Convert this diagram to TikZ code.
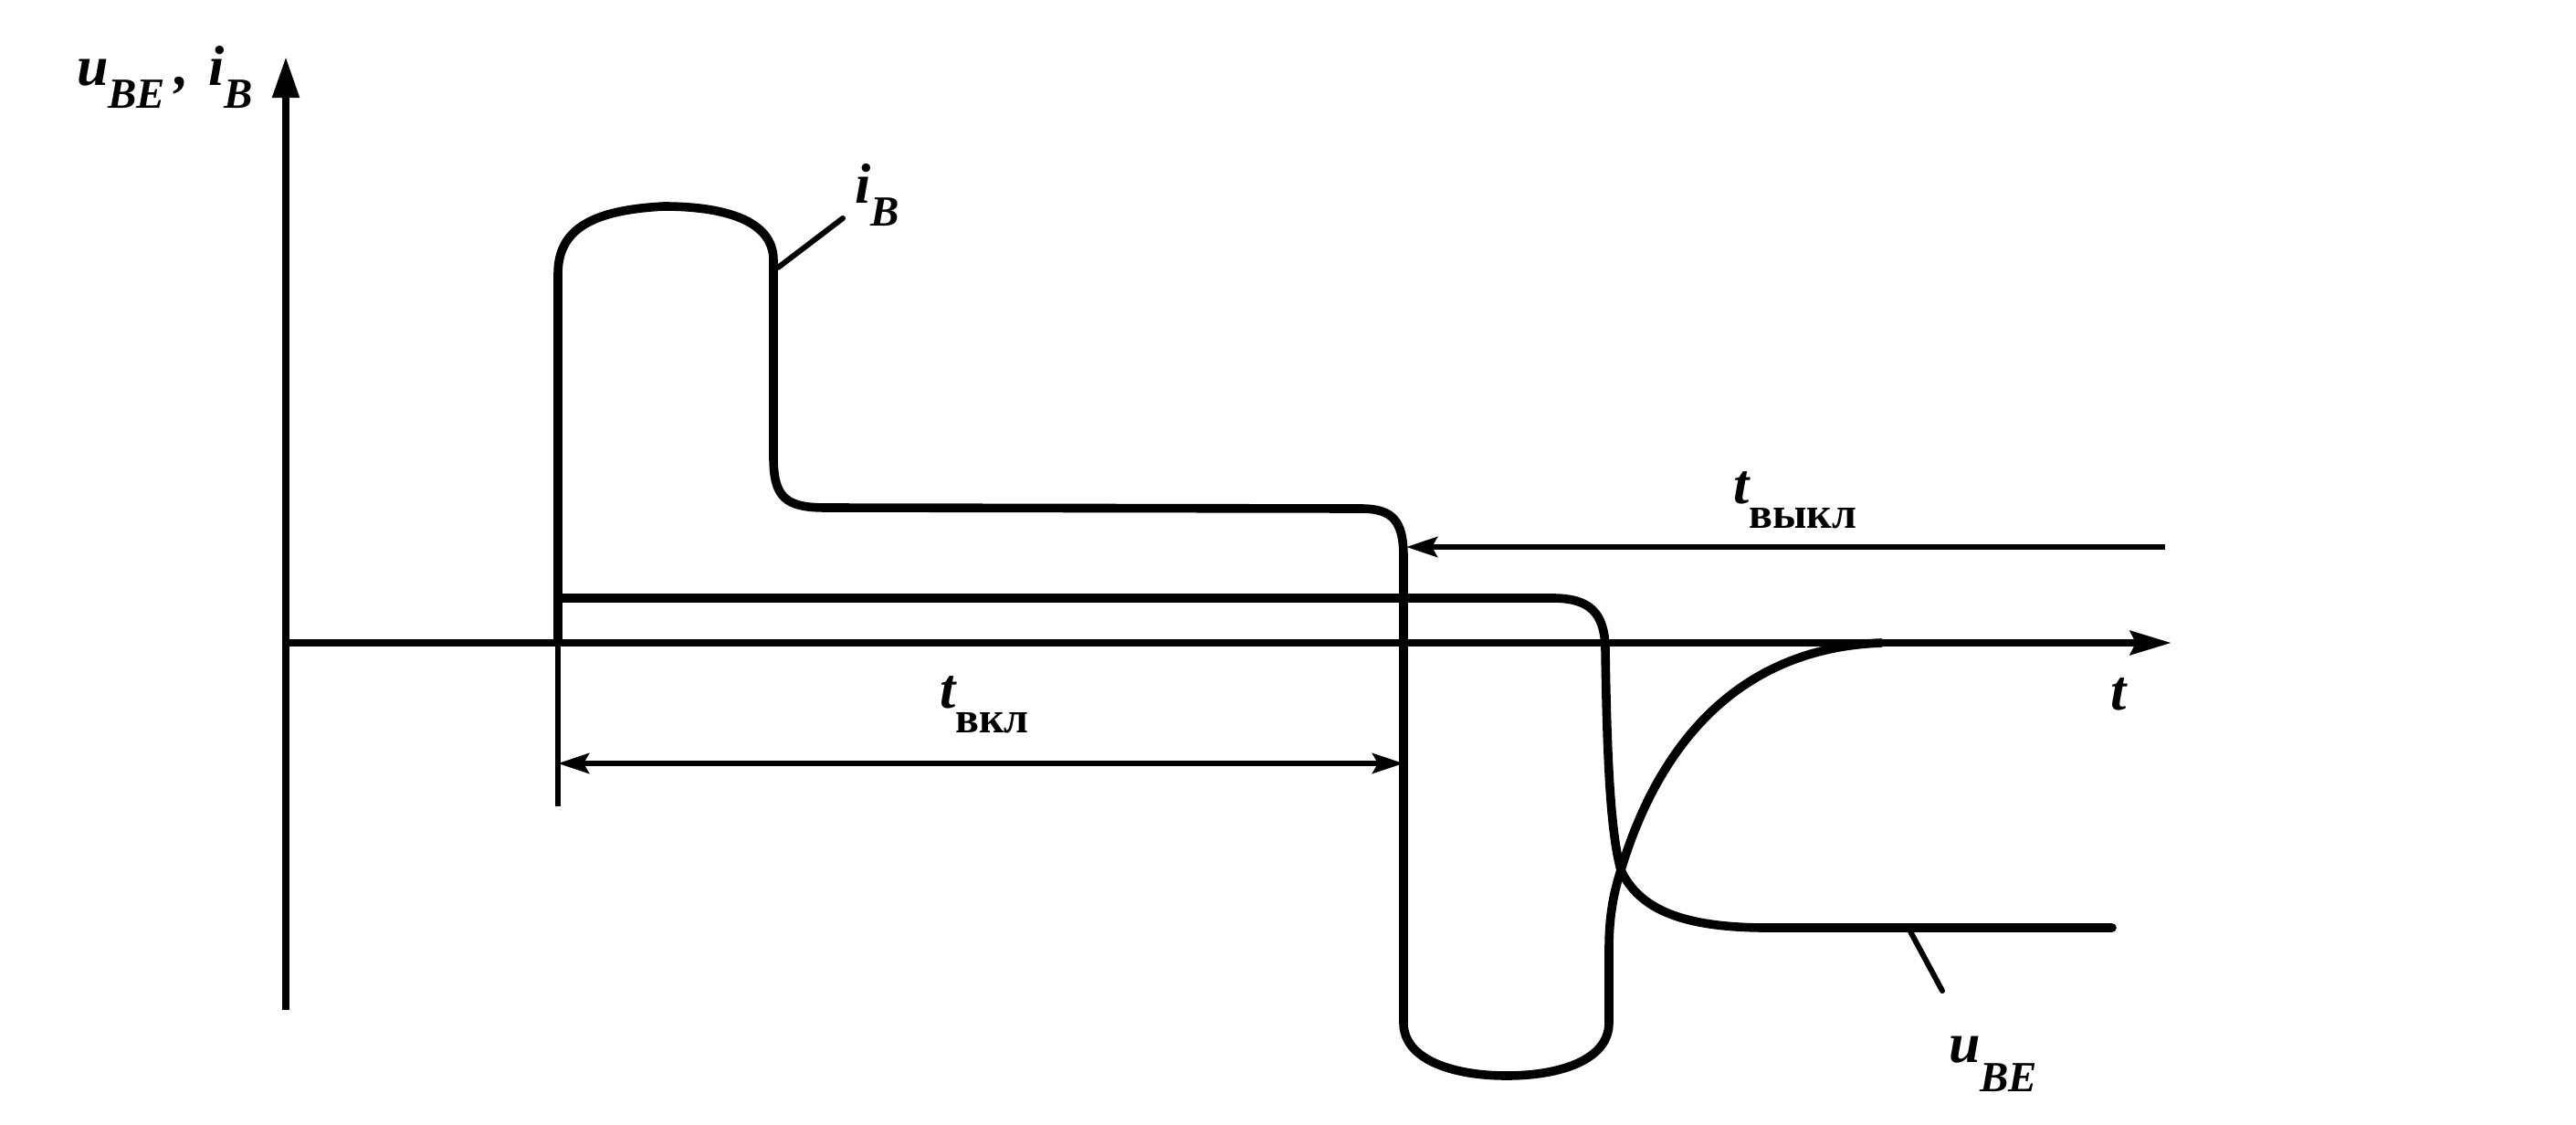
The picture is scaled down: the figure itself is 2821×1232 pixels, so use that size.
\documentclass[tikz,border=0pt]{standalone}
\usepackage{fontspec}
\setmainfont{Liberation Serif}
\usetikzlibrary{arrows.meta}
\newcommand{\mainsz}{\fontsize{15.5}{18}\selectfont\bfseries\itshape}
\newcommand{\subsz}{\fontsize{11.75}{14}\selectfont\bfseries\itshape}
\newcommand{\subcyr}{\fontsize{12}{14}\selectfont\bfseries\upshape}
\tikzset{
  curve/.style={line width=2.4pt, line cap=round, line join=round},
  axisline/.style={line width=2pt},
  ytip/.style={-{Triangle[length=11.25pt,width=7pt]}},
  ttip/.style={-{Stealth[length=11.25pt,width=6.5pt,inset=1.5pt]}},
  dim/.style={line width=1.5pt},
  extline/.style={line width=1.3pt},
  lead/.style={line width=1.5pt, line cap=round},
  lbl/.style={anchor=base west, inner sep=0pt, outer sep=0pt}
}
\begin{document}
\begin{tikzpicture}[x=0.25pt,y=-0.25pt]
\useasboundingbox (0,0) rectangle (2821,1232);
% axes
\coordinate (O) at (313,704);
\coordinate (Ybot) at (313,1106);
\coordinate (Ytop) at (313,62);
\coordinate (Tend) at (2378,704);
\draw[axisline,ytip] (Ybot) -- (Ytop);
\draw[axisline,ttip] (O) -- (Tend);
% t_on dimension
\coordinate (ext0) at (611,704);
\coordinate (ext1) at (611,883);
\draw[extline] (ext0) -- (ext1);
\coordinate (on1) at (611,836);
\coordinate (on2) at (1537,836);
\draw[dim,{Stealth[length=8.5pt,width=5.5pt,inset=1.5pt]}-{Stealth[length=8.5pt,width=5.5pt,inset=1.5pt]}] (on1) -- (on2);
% t_off dimension
\coordinate (off1) at (2371,599);
\coordinate (off2) at (1540,599);
\draw[dim,-{Stealth[length=8.5pt,width=5.5pt,inset=1.5pt]}] (off1) -- (off2);
% i_B curve
\draw[curve] (611,704) -- (611,300)
  .. controls (611,250) and (650,230) .. (727,226)
  .. controls (790,226) and (847,240) .. (847,285)
  -- (847,500)
  .. controls (847,545) and (860,556) .. (905,556)
  -- (1490,557)
  .. controls (1525,557) and (1537,570) .. (1537,610)
  -- (1537,1120)
  .. controls (1537,1160) and (1590,1178) .. (1650,1178)
  .. controls (1710,1178) and (1762,1160) .. (1762,1120)
  -- (1762,1040)
  .. controls (1762,1000) and (1768,975) .. (1775,953)
  .. controls (1815,820) and (1900,710) .. (2060,704);
% u_BE curve
\draw[curve] (611,655) -- (1700,655)
  .. controls (1740,655) and (1757,670) .. (1758,710)
  .. controls (1760,850) and (1765,915) .. (1775,953)
  .. controls (1795,995) and (1840,1015) .. (1930,1016)
  -- (2313,1016);
% leaders
\coordinate (ibA) at (852,293);
\coordinate (ibB) at (923,239);
\draw[lead] (ibA) -- (ibB);
\coordinate (ubA) at (2092,1020);
\coordinate (ubB) at (2127,1085);
\draw[lead] (ubA) -- (ubB);
% labels
\node[lbl] (lblY) at (84,93) {\mainsz u\raisebox{-6.25pt}{\subsz BE}\hspace{2.5pt},\hspace{5.4pt}i\raisebox{-6.25pt}{\subsz B}};
\node[lbl] (lblIB) at (936,222) {\mainsz i\raisebox{-6.25pt}{\subsz B}};
\node[lbl] (lblOff) at (1898,551) {\mainsz t\raisebox{-6.75pt}{\subcyr выкл}};
\node[lbl] (lblOn) at (1029,775) {\mainsz t\raisebox{-6.75pt}{\subcyr вкл}};
\node[lbl] (lblT) at (2311,777) {\mainsz t};
\node[lbl] (lblU) at (2134,1163) {\mainsz u\raisebox{-8pt}{\subsz BE}};
\end{tikzpicture}
\end{document}
